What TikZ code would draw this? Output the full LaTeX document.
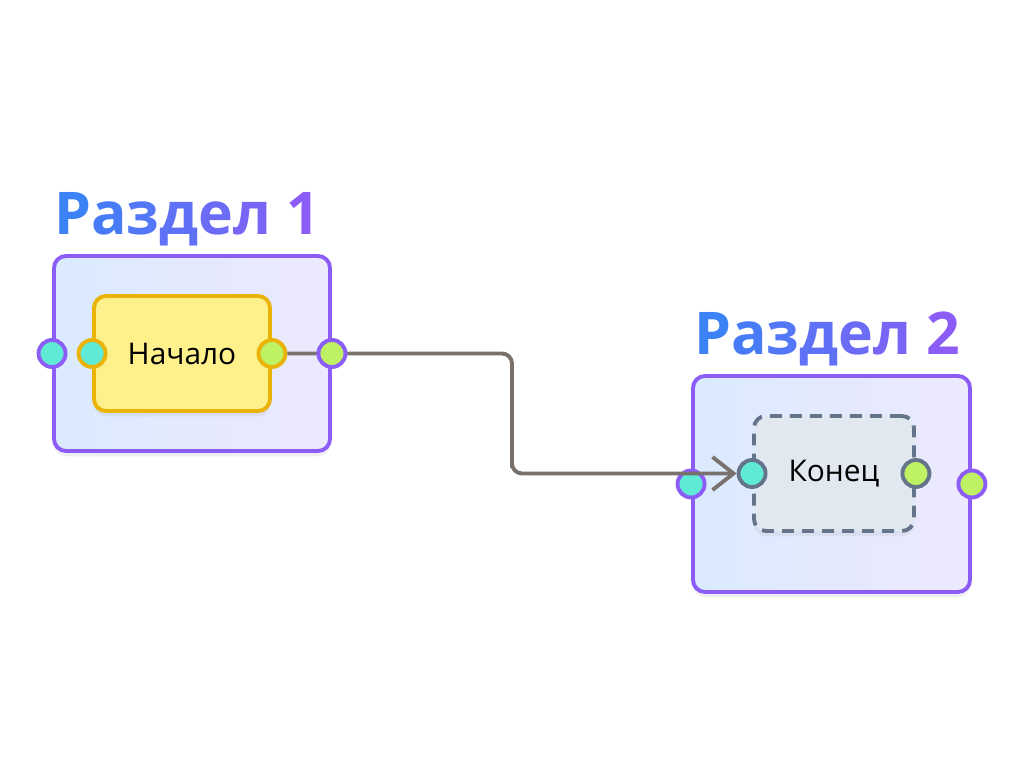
\documentclass[tikz,border=0pt]{standalone}
\usepackage{fontspec}
\setmainfont{Open Sans}
\usetikzlibrary{arrows.meta,shadows}
\definecolor{grpline}{HTML}{8B5CF6}
\definecolor{grpleft}{HTML}{DBEAFE}
\definecolor{grpright}{HTML}{EDE9FE}
\definecolor{startfill}{HTML}{FEF08A}
\definecolor{startline}{HTML}{EAB308}
\definecolor{endfill}{HTML}{E2E8F0}
\definecolor{endline}{HTML}{64748B}
\definecolor{portin}{HTML}{5EEAD4}
\definecolor{portout}{HTML}{BEF264}
\definecolor{connline}{HTML}{78716C}
\definecolor{titleblue}{HTML}{3B82F6}
\newcommand{\titlefont}{\fontsize{33.5}{40}\selectfont\bfseries}
% title letters from blue to purple
\newcommand{\gradtitle}[1]{{\color{titleblue}Р}{\color{titleblue!85!grpline}а}{\color{titleblue!70!grpline}з}{\color{titleblue!55!grpline}д}{\color{titleblue!40!grpline}е}{\color{titleblue!25!grpline}л} {\color{grpline}#1}}
\tikzset{
  group/.style={draw=grpline,line width=2.2pt,rounded corners=0.24cm,left color=grpleft,right color=grpright,
    drop shadow={opacity=0.12,shadow xshift=0pt,shadow yshift=-3pt}},
  step start/.style={draw=startline,fill=startfill,line width=2.2pt,rounded corners=0.24cm,font=\fontsize{17}{21}\selectfont,
    drop shadow={opacity=0.12,shadow xshift=0pt,shadow yshift=-3pt}},
  step end/.style={draw=endline,fill=endfill,line width=2.2pt,dash pattern=on 6.8pt off 4.6pt,rounded corners=0.24cm,font=\fontsize{17}{21}\selectfont,
    drop shadow={opacity=0.10,shadow xshift=0pt,shadow yshift=-3pt}},
  port/.style={circle,minimum size=0.54cm,inner sep=0pt,line width=2.2pt},
  title/.style={anchor=base west,font=\titlefont,inner sep=0pt},
  conn/.style={draw=connline,line width=2.2pt,rounded corners=0.2cm,-{Straight Barb[length=0.42cm,width=0.66cm,line width=2.2pt]}},
}
\begin{document}
\begin{tikzpicture}
\useasboundingbox[fill=white] (0,0) rectangle (20.48,15.36);

% Section 1
\node[group,minimum width=5.52cm,minimum height=3.9cm] (g1) at (3.84,8.29) {};
\node[step start,minimum width=3.52cm,minimum height=2.3cm] (n1) at (3.64,8.29) {Начало};
\node[title] (t1) at (1.08,10.66) {\gradtitle{1}};
\node[port,draw=startline,fill=portin] (n1in) at (n1.west) {};
\node[port,draw=startline,fill=portout] (n1out) at (n1.east) {};

% Section 2
\node[group,minimum width=5.54cm,minimum height=4.32cm] (g2) at (16.63,5.68) {};
\node[step end,minimum width=3.2cm,minimum height=2.3cm] (n2) at (16.68,5.89) {Конец};
\node[title] (t2) at (13.88,8.26) {\gradtitle{2}};
\node[port,draw=endline,fill=portin] (n2in) at (n2.west) {};
\node[port,draw=endline,fill=portout] (n2out) at (n2.east) {};
\node[port,draw=grpline,fill=portin] (g2in) at (g2.west) {};
\node[port,draw=grpline,fill=portout] (g2out) at (g2.east) {};

% Connector
\coordinate (bend) at (10.24,5.89);
\draw[conn] (n1out.east) -| (bend) |- (n2in.west);

\node[port,draw=grpline,fill=portin] (g1in) at (g1.west) {};
\node[port,draw=grpline,fill=portout] (g1out) at (g1.east) {};
\end{tikzpicture}
\end{document}
